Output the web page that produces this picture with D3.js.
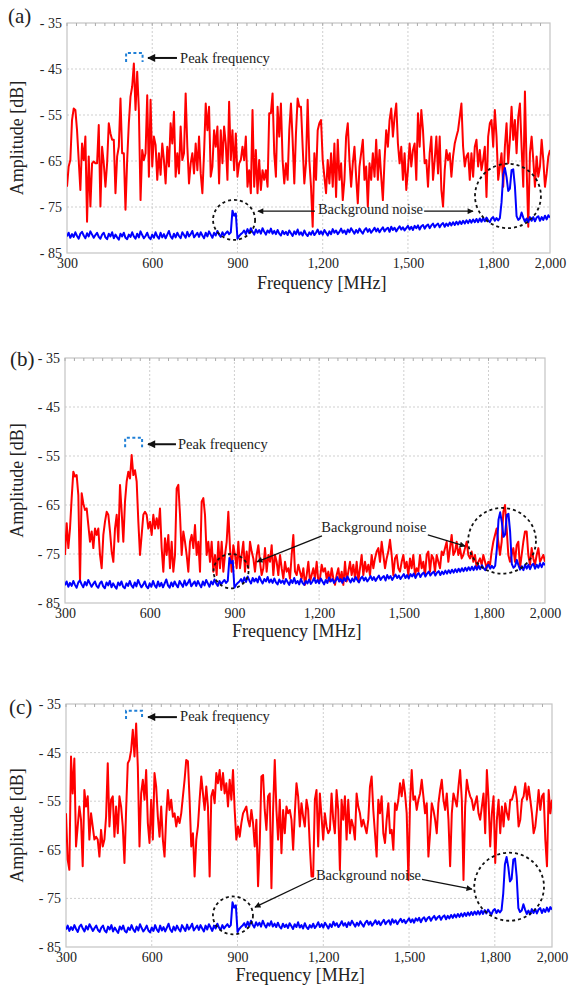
<!DOCTYPE html>
<html>
<head>
<meta charset="utf-8">
<script src="https://cdn.jsdelivr.net/npm/d3@7"></script>
<style>
  body { margin: 0; background: #fff; }
  svg { display: block; }
  text { font-family: "Liberation Serif", "Times New Roman", serif; fill: #222; }
</style>
</head>
<body>
<svg id="fig"></svg>
<script>
// sweep 300 - 2000 MHz, points evenly spaced across the sweep
var sweepStart = 300, sweepStop = 2000;
var freqTicks = [300, 600, 900, 1200, 1500, 1800, 2000];
var ampTicks = [-35, -45, -55, -65, -75, -85];

// background noise (blue), same trace in all three panels
var backgroundNoise = [
  -81.4,-80.6,-81.7,-80.9,-81.5,-80.5,-81.3,-81.9,-80.8,-80.4,-81.2,-81.8,-80.7,-81.4,-80.3,-81.0,-81.7,-81.1,-80.6,-81.5,
  -81.9,-81.0,-80.6,-81.6,-82.0,-80.8,-81.4,-80.5,-81.8,-81.0,-81.6,-82.1,-80.8,-81.4,-80.6,-81.7,-82.0,-81.0,-81.5,-80.5,
  -81.4,-81.9,-80.8,-81.6,-80.3,-81.1,-81.8,-81.3,-80.6,-81.6,-82.0,-81.0,-81.7,-80.5,-81.4,-81.9,-80.6,-81.6,-80.9,-81.8,
  -81.0,-80.2,-81.4,-81.9,-80.8,-81.6,-80.6,-81.3,-81.8,-80.5,-81.1,-81.7,-80.4,-81.4,-80.9,-80.2,-81.6,-81.1,-80.6,-81.5,
  -80.5,-81.2,-81.8,-80.6,-81.4,-80.3,-81.0,-81.7,-80.6,-81.2,-80.2,-81.0,-81.5,-80.5,-81.2,-80.7,-80.3,-80.9,
  -80.5,-75.8,-76.9,-76.4,-81.9,-81.3,-80.9,-80.6,
  -80.1,-80.9,-79.8,-80.7,-79.6,-80.4,-81.0,-79.9,-80.6,-80.0,-80.8,-79.6,-80.4,-81.0,-80.1,-80.6,-79.7,-80.8,-80.2,-80.9,
  -80.0,-80.8,-81.2,-80.2,-80.9,-80.4,-81.1,-80.1,-80.7,-81.3,-80.3,-80.9,-79.9,-81.0,-80.5,-81.2,-80.1,-80.9,-81.3,-80.5,
  -81.0,-80.2,-81.1,-80.6,-79.9,-80.9,-80.3,-81.0,-80.0,-80.6,-81.2,-80.3,-80.9,-79.8,-80.6,-80.1,-80.9,-80.4,-79.7,-80.6,
  -80.1,-80.9,-79.9,-80.5,-79.6,-80.2,-80.8,-80.0,-80.6,-79.7,-80.3,-80.8,-80.0,-79.6,-80.4,-79.8,-80.6,-80.1,-79.5,-80.3,
  -79.7,-80.5,-79.9,-79.4,-80.3,-79.8,-79.5,-80.4,-79.3,-80.0,-79.5,-80.3,-79.7,-79.2,-79.9,-79.4,-80.1,-79.6,-79.1,-79.9,
  -79.3,-80.0,-79.1,-79.6,-79.0,-79.9,-79.2,-78.9,-79.7,-79.1,-78.8,-79.6,-79.0,-78.6,-79.4,-78.9,-78.6,-79.4,-78.8,-78.5,
  -79.3,-78.6,-79.1,-78.4,-79.0,-78.3,-78.9,-78.2,-78.8,-78.1,-78.7,-78.0,-78.6,-77.9,-78.5,-77.8,-78.4,-77.7,-78.3,-77.6,
  -78.3,-77.5,-78.2,-77.4,-78.1,-77.3,-77.9,-78.3,-77.5,-77.2,-78.0,-77.4,-77.9,
  -77.4,-74.0,-68.0,-66.5,-68.5,-71.5,-71.0,-67.0,-66.8,-70.5,-77.0,-77.8,-77.5,-76.2,
  -77.3,-78.2,-77.5,-78.3,-77.2,-78.0,-77.2,-78.1,-77.3,-77.0,-78.0,-77.2,-77.8,-76.9,-77.7,-76.8,-77.3
];

// measured signal (red), panel (a)
var signalA = [
  -70.6,-66.2,-64.8,-56.1,-53.6,-53.9,-58.3,-64.8,-71.3,-61.2,
  -64.8,-59.7,-78.2,-64.0,-74.9,-65.5,-65.1,-65.5,-65.5,-57.2,
  -74.9,-61.9,-65.5,-70.6,-65.5,-56.8,-59.0,-60.4,-60.4,-72.0,
  -64.0,-61.9,-51.4,-63.3,-63.3,-75.6,-64.8,-56.8,-51.0,-48.8,
  -43.8,-53.9,-45.6,-53.9,-73.5,-62.6,-64.8,-63.3,-50.7,-68.4,
  -51.7,-66.2,-59.7,-61.5,-69.1,-63.3,-68.0,-61.2,-64.8,-69.9,
  -61.9,-66.2,-56.8,-61.2,-54.3,-68.4,-63.3,-67.7,-57.5,-64.8,
  -63.3,-50.3,-61.9,-69.9,-65.5,-63.3,-67.7,-61.2,-67.0,-59.7,
  -67.7,-72.0,-63.3,-52.5,-58.3,-53.2,-68.4,-66.2,-58.3,-61.9,
  -57.5,-69.9,-58.3,-65.5,-57.5,-61.2,-69.1,-52.1,-64.8,-58.3,
  -67.0,-59.0,-68.4,-65.5,-64.8,-61.9,-64.8,-59.7,-70.6,-67.0,
  -72.0,-53.9,-70.6,-62.6,-72.0,-64.8,-71.3,-67.0,-69.1,-67.0,
  -70.6,-54.6,-54.6,-50.3,-63.3,-68.4,-53.2,-59.7,-52.5,-64.8,
  -69.9,-65.5,-69.1,-58.3,-52.5,-60.4,-69.9,-59.0,-51.4,-53.2,
  -53.2,-61.9,-69.9,-65.5,-51.7,-64.8,-70.6,
  -79.3,-63.3,-69.1,-58.3,-56.8,-56.1,-64.8,-68.4,-72.0,-64.8,
  -69.9,-63.3,-70.6,-61.2,-72.8,-60.4,-69.1,-65.5,-73.5,-69.1,
  -59.7,-56.8,-64.8,-70.6,-65.5,-61.9,-68.4,-74.2,-66.2,-63.3,
  -60.4,-69.1,-66.2,-74.9,-65.5,-69.1,-63.3,-68.4,-60.4,-69.1,
  -62.6,-68.4,-73.5,-64.8,-58.3,-61.9,-56.1,-53.6,-59.7,-55.4,
  -52.5,-61.2,-65.5,-61.9,-69.1,-63.3,-71.3,-67.0,-61.2,-66.2,
  -62.6,-61.2,-69.1,-54.6,-61.9,-53.9,-58.3,-65.5,-64.8,-70.6,
  -63.3,-59.7,-69.1,-64.8,-59.7,-67.7,-59.7,-71.3,-74.9,-67.0,
  -62.6,-64.8,-63.3,-68.4,-64.0,-61.2,-59.7,-58.3,-55.4,-52.5,
  -61.9,-66.2,-64.0,-63.3,-69.1,-63.3,-68.4,-61.9,-60.4,-66.2,
  -62.6,-67.0,-64.8,-61.9,-72.8,-59.7,-56.8,-56.1,-61.9,-53.9,
  -59.7,-69.1,-66.2,-63.3,-70.6,-61.9,-56.8,-65.5,-60.4,-53.2,
  -60.4,-56.1,-63.3,-55.4,-52.5,-61.9,-70.6,-49.9,-66.2,-79.3,
  -63.3,-59.7,-64.8,-70.6,-64.0,-68.4,-66.2,-60.4,-64.8,-70.6,
  -67.7,-64.0,-62.6
];

// panel (b)
var signalB = [
  -75.2,-68.7,-73.8,-69.8,-63.6,-58.2,-59.2,-58.9,-63.0,-80.6,
  -62.6,-64.7,-66.0,-65.7,-69.1,-72.5,-70.4,-73.8,-69.8,-71.1,
  -69.8,-75.2,-77.9,-71.1,-68.4,-66.4,-67.0,-70.4,-74.5,-76.6,
  -69.8,-67.0,-72.5,-60.9,-66.4,-72.5,-64.3,-60.2,-58.2,-59.6,
  -54.8,-58.9,-57.9,-60.2,-68.4,-75.2,-71.1,-67.0,-66.4,-67.0,
  -69.8,-68.4,-71.1,-67.0,-69.8,-67.7,-69.8,-65.7,-73.8,-78.6,
  -71.8,-75.2,-71.1,-77.9,-72.5,-78.6,-75.2,-61.6,-60.9,-67.0,
  -75.2,-70.4,-72.5,-75.2,-78.6,-72.5,-71.1,-73.8,-69.1,-75.2,
  -72.5,-78.6,-64.3,-63.6,-67.0,-75.2,-72.5,-76.6,-72.5,-78.6,
  -75.2,-79.3,-72.5,-77.9,-72.5,-78.6,-75.2,-72.5,-66.4,-73.8,
  -78.6,-73.2,-75.2,-77.9,-72.5,-77.9,-75.2,-72.5,-78.6,-74.5,
  -77.9,-72.5,-74.5,-75.9,-78.6,-75.2,-73.2,-76.6,-79.3,-77.9,
  -73.8,-78.6,-75.2,-76.6,-73.2,-79.3,-75.2,-76.6,-79.3,-75.2,
  -77.9,-80.0,-76.6,-78.6,-77.9,-80.0,-75.2,-71.1,-78.6,-79.3,
  -77.2,-78.6,-80.0,-77.9,-81.3,-79.3,-76.6,-80.6,-79.3,-77.9,
  -80.0,-76.6,-80.6,-80.0,-77.2,-78.6,-77.9,-80.0,-78.6,-80.6,
  -77.9,-80.0,-81.3,-79.3,-77.9,-80.6,-78.6,-81.3,-76.6,-80.6,
  -78.6,-76.6,-79.3,-77.2,-80.0,-76.6,-80.6,-77.9,-75.2,-79.3,
  -76.6,-78.6,-77.2,-79.3,-75.2,-77.9,-75.9,-74.5,-73.8,-76.6,
  -72.5,-75.2,-77.9,-75.9,-74.5,-72.1,-75.2,-79.3,-75.9,-75.2,
  -77.9,-78.6,-76.6,-75.2,-77.9,-76.6,-79.3,-75.9,-77.9,-75.2,
  -79.3,-77.9,-78.6,-75.2,-77.9,-76.6,-79.3,-75.2,-74.5,-78.6,
  -75.2,-75.9,-78.6,-75.2,-76.6,-77.9,-74.5,-75.2,-73.8,-72.5,
  -76.6,-73.8,-71.1,-75.2,-74.5,-72.5,-75.2,-73.8,-75.9,-75.2,
  -73.8,-72.5,-75.2,-75.9,-74.5,-76.6,-75.2,-77.9,-76.6,-75.9,
  -77.2,-75.2,-76.6,-77.9,-76.6,-77.2,-74.5,-72.5,-71.1,-69.8,
  -72.5,-75.2,-72.5,-66.4,-65.0,-69.8,-75.2,-76.6,-75.2,-73.8,
  -76.6,-73.2,-72.5,-77.9,-75.2,-72.5,-70.4,-70.4,-75.2,-77.2,
  -73.8,-75.9,-77.2,-75.2,-73.8,-76.6,-75.9,-75.2,-76.6
];

// panel (c)
var signalC = [
  -57.5,-67.0,-69.1,-45.8,-53.4,-46.2,-64.3,-60.2,-56.1,-58.8,
  -68.4,-52.7,-56.1,-54.0,-62.9,-57.5,-60.2,-62.9,-62.3,-62.9,
  -66.4,-60.9,-64.3,-62.9,-58.2,-47.2,-60.2,-54.7,-54.0,-62.3,
  -56.1,-61.6,-54.0,-56.1,-60.2,-67.7,-56.8,-47.2,-46.5,-44.5,
  -40.3,-45.8,-39.0,-47.9,-64.3,-53.4,-50.6,-54.7,-48.6,-59.5,
  -63.6,-54.7,-62.9,-49.2,-52.0,-58.2,-62.3,-56.1,-62.9,-66.4,
  -58.2,-52.7,-56.8,-54.7,-58.2,-57.5,-60.2,-58.2,-59.5,-57.5,
  -54.0,-50.6,-46.5,-46.8,-54.7,-64.3,-61.6,-70.5,-62.9,-60.2,
  -54.7,-49.9,-53.4,-56.8,-52.0,-56.1,-70.5,-54.0,-52.7,-55.4,
  -49.2,-51.3,-48.6,-52.7,-49.2,-53.4,-51.3,-56.1,-50.6,-54.7,
  -48.6,-56.8,-62.9,-60.2,-62.3,-59.5,-57.5,-56.8,-56.1,-58.8,
  -60.2,-56.8,-59.5,-64.3,-58.8,-72.5,-63.6,-49.9,-49.6,-56.8,
  -60.9,-54.0,-53.4,-72.9,-56.8,-46.5,-56.8,-62.9,-54.7,-65.7,
  -56.8,-61.6,-56.1,-57.5,-56.8,-58.8,-65.0,-57.5,-51.3,-54.0,
  -60.2,-55.4,-58.2,-60.2,-54.7,-56.8,-64.3,-70.5,
  -70.5,-54.7,-52.7,-64.3,-53.4,-58.2,-62.9,-57.5,-60.2,-61.6,
  -60.9,-53.4,-58.8,-61.6,-52.7,-56.8,-69.1,-54.7,-58.8,-54.0,
  -62.9,-54.7,-61.6,-58.8,-60.2,-62.9,-53.4,-56.1,-57.5,-60.2,
  -58.8,-60.2,-61.6,-58.8,-52.0,-49.9,-56.8,-61.6,-66.4,-54.7,
  -57.5,-54.0,-61.6,-63.6,-58.8,-55.4,-61.6,-60.9,-65.0,-55.4,
  -56.8,-54.7,-51.3,-54.0,-50.6,-53.4,-57.5,-71.2,-55.4,-48.6,
  -54.7,-54.0,-56.8,-54.7,-53.4,-50.6,-54.0,-57.5,-55.4,-66.4,
  -61.6,-55.4,-56.8,-58.8,-61.6,-55.4,-52.7,-50.6,-54.7,-56.8,
  -53.4,-58.8,-68.4,-57.5,-53.4,-54.7,-56.1,-52.0,-48.6,-54.7,
  -71.2,-56.1,-50.6,-52.7,-54.0,-54.7,-56.8,-55.4,-54.0,-57.5,
  -58.8,-56.1,-53.4,-61.6,-48.6,-54.7,-64.3,-57.5,-54.0,-67.7,
  -58.8,-54.7,-61.6,-56.1,-60.2,-55.4,-57.5,-58.8,-54.7,-54.7,
  -53.4,-52.0,-54.7,-60.2,-58.8,-54.7,-54.0,-51.3,-54.7,-52.0,
  -54.7,-57.5,-61.6,-60.2,-56.8,-52.7,-56.8,-54.0,-53.4,-62.9,
  -68.4,-52.7,-57.5,-54.7
];

// layout of the three panels (pixels), annotation anchors in data units (MHz, dB)
var panels = [
  { name: "(a)", signal: signalA,
    left: 67, right: 550, top: 23, bottom: 253,
    nameX: 8, nameY: 23, titleDy: 36, titleF: 1197,
    peak: { f0: 508, f1: 566, v0: -41.5, v1: -43.5, from: 687, to: 585, v: -42.6, textF: 698, textV: -43.6 },
    noise: { textF: 1368, textV: -76.6,
      arrows: [[1173, -75.9, 972, -75.9], [1557, -75.9, 1729, -75.9]],
      rings: [[888, -77.8, 74, 4.35], [1852, -72.6, 116, 7.0]] } },
  { name: "(b)", signal: signalB,
    left: 65, right: 545, top: 358, bottom: 603,
    nameX: 10, nameY: 366, titleDy: 34, titleF: 1121,
    peak: { f0: 513, f1: 573, v0: -51.3, v1: -53.2, from: 693, to: 594, v: -52.6, textF: 700, textV: -53.5 },
    noise: { textF: 1394, textV: -70.6,
      arrows: [[1210, -71.3, 980, -76.6], [1585, -71.1, 1717, -73.4]],
      rings: [[888, -78.5, 62, 3.5], [1848, -72.3, 120, 6.7]] } },
  { name: "(c)", signal: signalC,
    left: 66, right: 552, top: 704, bottom: 947,
    nameX: 9, nameY: 714, titleDy: 34, titleF: 1119,
    peak: { f0: 510, f1: 566, v0: -36.4, v1: -38.1, from: 688, to: 587, v: -37.7, textF: 699, textV: -38.6 },
    noise: { textF: 1358, textV: -71.3,
      arrows: [[1175, -70.8, 961, -76.8], [1545, -71.1, 1720, -73.1]],
      rings: [[884, -78.5, 70, 3.9], [1850, -72.6, 122, 7.0]] } }
];

var svg = d3.select("#fig")
  .attr("width", 569)
  .attr("height", 985);

svg.append("rect")
  .attr("width", 569)
  .attr("height", 985)
  .attr("fill", "#fff");

var defs = svg.append("defs");
function addHead(id, len, wid) {
  defs.append("marker")
    .attr("id", id)
    .attr("viewBox", "0 0 10 10")
    .attr("refX", 9).attr("refY", 5)
    .attr("markerUnits", "userSpaceOnUse")
    .attr("markerWidth", len).attr("markerHeight", wid)
    .attr("orient", "auto")
    .append("path")
    .attr("d", "M0,0L10,5L0,10z")
    .attr("fill", "#111");
}
addHead("headBig", 11, 8);
addHead("headSmall", 9, 6);

function drawPanel(p, idx) {
  var x = d3.scaleLinear().domain([sweepStart, sweepStop]).range([p.left, p.right]);
  var y = d3.scaleLinear().domain([-85, -35]).range([p.bottom, p.top]);
  var g = svg.append("g");

  defs.append("clipPath").attr("id", "clip" + idx)
    .append("rect")
    .attr("x", p.left).attr("y", p.top - 2)
    .attr("width", p.right - p.left).attr("height", p.bottom - p.top + 4);

  // grid
  g.append("g").selectAll("line")
    .data(freqTicks.slice(1, -1))
    .join("line")
    .attr("x1", d => x(d)).attr("x2", d => x(d))
    .attr("y1", p.top).attr("y2", p.bottom)
    .attr("stroke", "#cfcfcf").attr("stroke-dasharray", "2,2");
  g.append("g").selectAll("line")
    .data(ampTicks.slice(1, -1))
    .join("line")
    .attr("x1", p.left).attr("x2", p.right)
    .attr("y1", d => y(d)).attr("y2", d => y(d))
    .attr("stroke", "#cfcfcf").attr("stroke-dasharray", "2,2");

  // frame + minor ticks along the top
  g.append("rect")
    .attr("x", p.left).attr("y", p.top)
    .attr("width", p.right - p.left).attr("height", p.bottom - p.top)
    .attr("fill", "none").attr("stroke", "#c4c4c4").attr("stroke-width", 1.2);
  g.append("g").selectAll("line")
    .data(d3.range(sweepStart, sweepStop, 100 / 3))
    .join("line")
    .attr("x1", d => x(d)).attr("x2", d => x(d))
    .attr("y1", p.top).attr("y2", p.top + 3)
    .attr("stroke", "#aaa");

  // axes
  var xAxis = g.append("g")
    .attr("transform", "translate(0," + p.bottom + ")")
    .call(d3.axisBottom(x).tickValues(freqTicks).tickSize(0).tickPadding(5).tickFormat(d3.format(",")));
  xAxis.select(".domain").remove();
  xAxis.selectAll("text")
    .style("font-size", "14px")
    .attr("fill", "#222");

  var yAxis = g.append("g")
    .attr("transform", "translate(" + p.left + ",0)")
    .call(d3.axisLeft(y).tickValues(ampTicks).tickSize(0).tickPadding(5).tickFormat(d => "- " + Math.abs(d)));
  yAxis.select(".domain").remove();
  yAxis.selectAll("text")
    .style("font-size", "14px")
    .attr("fill", "#222");

  g.append("text")
    .attr("x", x(p.titleF)).attr("y", p.bottom + p.titleDy)
    .attr("text-anchor", "middle")
    .style("font-size", "18px")
    .text("Frequency [MHz]");

  g.append("text")
    .attr("transform", "translate(23," + (p.top + p.bottom) / 2 + ") rotate(-90)")
    .attr("text-anchor", "middle")
    .style("font-size", "18px")
    .text("Amplitude [dB]");

  g.append("text")
    .attr("x", p.nameX).attr("y", p.nameY)
    .style("font-size", "21px")
    .text(p.name);

  // traces
  var trace = function (vals) {
    var s = (sweepStop - sweepStart) / (vals.length - 1);
    return d3.line()
      .x((d, i) => x(sweepStart + i * s))
      .y(d => y(d))(vals);
  };

  var plot = g.append("g").attr("clip-path", "url(#clip" + idx + ")");
  plot.append("path")
    .attr("d", trace(p.signal))
    .attr("fill", "none")
    .attr("stroke", "#ff0000")
    .attr("stroke-width", 2)
    .attr("stroke-linejoin", "round");
  plot.append("path")
    .attr("d", trace(backgroundNoise))
    .attr("fill", "none")
    .attr("stroke", "#0000ff")
    .attr("stroke-width", 2)
    .attr("stroke-linejoin", "round");

  // peak frequency marker
  var pk = p.peak;
  g.append("path")
    .attr("d", "M" + x(pk.f0) + "," + y(pk.v1) + "V" + y(pk.v0) + "H" + x(pk.f1) + "V" + y(pk.v1))
    .attr("fill", "none")
    .attr("stroke", "#1f7fd6")
    .attr("stroke-width", 2)
    .attr("stroke-dasharray", "3,2.5");
  g.append("line")
    .attr("x1", x(pk.from)).attr("x2", x(pk.to))
    .attr("y1", y(pk.v)).attr("y2", y(pk.v))
    .attr("stroke", "#111").attr("stroke-width", 2)
    .attr("marker-end", "url(#headBig)");
  g.append("text")
    .attr("x", x(pk.textF)).attr("y", y(pk.textV))
    .style("font-size", "14.5px")
    .text("Peak frequency");

  // background noise callouts
  var nz = p.noise;
  g.selectAll(".ring")
    .data(nz.rings)
    .join("ellipse")
    .attr("cx", d => x(d[0])).attr("cy", d => y(d[1]))
    .attr("rx", d => x(sweepStart + d[2]) - x(sweepStart))
    .attr("ry", d => y(-85) - y(-85 + d[3]))
    .attr("fill", "none")
    .attr("stroke", "#111")
    .attr("stroke-width", 1.8)
    .attr("stroke-dasharray", "3,3");
  g.selectAll(".callout")
    .data(nz.arrows)
    .join("line")
    .attr("x1", d => x(d[0])).attr("y1", d => y(d[1]))
    .attr("x2", d => x(d[2])).attr("y2", d => y(d[3]))
    .attr("stroke", "#111").attr("stroke-width", 1.3)
    .attr("marker-end", "url(#headSmall)");
  g.append("text")
    .attr("x", x(nz.textF)).attr("y", y(nz.textV))
    .attr("text-anchor", "middle")
    .style("font-size", "14.5px")
    .text("Background noise");
}

panels.forEach(drawPanel);
</script>
</body>
</html>
